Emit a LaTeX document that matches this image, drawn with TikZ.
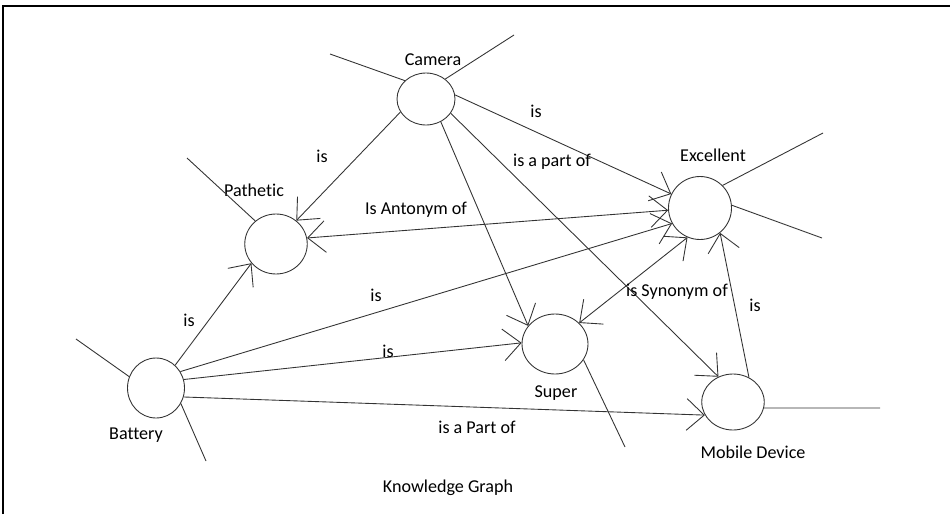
\documentclass[tikz,border=0pt]{standalone}
\usepackage{fontspec}
\setmainfont{Carlito}[Ligatures=NoCommon]
\usepackage{tikz}
\usetikzlibrary{arrows.meta,shapes.geometric}

\tikzset{
  concept/.style={draw=black!80, line width=0.5pt, ellipse, inner sep=0pt, minimum width=1.25cm, minimum height=1.2cm},
  rel/.style={draw=black!80, line width=0.5pt, -{Straight Barb[length=10pt,width=18pt]}},
  birel/.style={rel, {Straight Barb[length=10pt,width=18pt]}-{Straight Barb[length=10pt,width=18pt]}},
  spoke/.style={draw=black!80, line width=0.5pt},
  lbl/.style={font=\fontsize{10.3}{12}\selectfont, inner sep=0pt}
}

\begin{document}
\begin{tikzpicture}[x=0.02cm,y=-0.02cm]
        \useasboundingbox (0,0) rectangle (950,514);
        \draw[line width=1.2pt] (3,514) -- (3,6) -- (950,6);

        \node[concept, minimum width=1.16cm, minimum height=1.04cm] (cam) at (426,99) {};
        \node[concept] (pat) at (276,244) {};
        \node[concept, minimum width=1.14cm] (bat) at (156,388) {};
        \node[concept, minimum width=1.26cm, minimum height=1.26cm] (exc) at (700,208) {};
        \node[concept, minimum width=1.32cm] (sup) at (555,344) {};
        \node[concept, minimum height=1.12cm] (mob) at (733,402) {};

        \node[lbl] (camtxt) at (433,60) {Camera};
        \node[lbl] (pattxt) at (254,190) {Pathetic};
        \node[lbl] (exctxt) at (713,155) {Excellent};
        \node[lbl] (battxt) at (136,435) {Battery};
        \node[lbl] (suptxt) at (556,393) {Super};
        \node[lbl] (mobtxt) at (753,452) {Mobile Device};
        \node[lbl] (title) at (448,488) {Knowledge Graph};

        \coordinate (cam1) at (330,54); \coordinate (cam2) at (514,35);
        \coordinate (pat1) at (187,158);
        \coordinate (bat1) at (76,339); \coordinate (bat2) at (206,461);
        \coordinate (exc1) at (823,133); \coordinate (exc2) at (822,238);
        \coordinate (sup1) at (625,447);
        \coordinate (mob1) at (880,408);
        \draw[spoke] (cam.139) -- (cam1); \draw[spoke] (cam.46) -- (cam2);
        \draw[spoke] (pat.132) -- (pat1);
        \draw[spoke] (bat.157) -- (bat1); \draw[spoke] (bat.-32) -- (bat2);
        \draw[spoke] (exc.45) -- (exc1); \draw[spoke] (exc.5) -- (exc2);
        \draw[spoke] (sup.-29) -- (sup1);
        \draw[spoke] (mob.-11) -- (mob1);

        \draw[rel] (cam.207) -- (pat.49);
        \draw[rel] (cam.8) -- (exc.154);
        \draw[rel] (cam.-57) -- (sup.146);
        \draw[rel] (cam.-30) -- (mob.120);
        \draw[birel] (pat.11) -- (exc.184);
        \draw[rel] (bat.50) -- (pat.218);
        \draw[rel] (bat.34) -- (exc.209);
        \draw[rel] (bat.17) -- (sup.178);
        \draw[rel] (bat.-18) -- (mob.205);
        \draw[birel] (sup.41) -- (exc.247);
        \draw[rel] (mob.57) -- (exc.309);

        \node[lbl] (l1) at (322,156) {is};
        \node[lbl] (l2) at (536,111) {is};
        \node[lbl] (l3) at (552,162) {is a part of};
        \node[lbl] (l4) at (416,210) {Is Antonym of};
        \node[lbl] (l5) at (189,320) {is};
        \node[lbl] (l6) at (376,295) {is};
        \node[lbl] (l7) at (388,351) {is};
        \node[lbl] (l8) at (477,427) {is a Part of};
        \node[lbl] (l9) at (677,292) {is Synonym of};
        \node[lbl] (l10) at (755,305) {is};
\end{tikzpicture}
\end{document}
